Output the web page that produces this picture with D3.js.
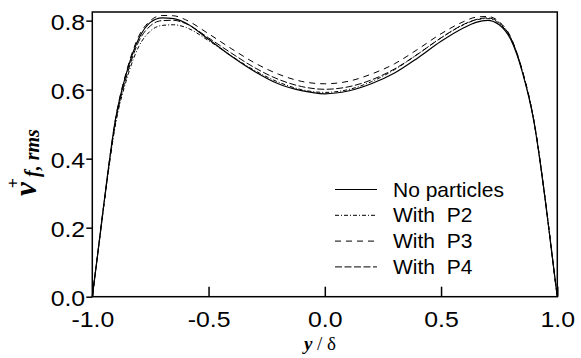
<!DOCTYPE html>
<html>
<head>
<meta charset="utf-8">
<script src="https://cdn.jsdelivr.net/npm/d3@7"></script>
<style>
  body { margin: 0; background: #fff; }
  svg { display: block; }
</style>
</head>
<body>
<svg id="chart"></svg>
<script>
// wall-normal positions y/delta
const yPos = [-1, -0.99, -0.975, -0.95, -0.9, -0.85, -0.8, -0.75, -0.7, -0.65, -0.6,
  -0.5, -0.4, -0.3, -0.2, -0.1, 0, 0.1, 0.2, 0.3, 0.4, 0.5,
  0.6, 0.65, 0.7, 0.75, 0.8, 0.85, 0.9, 0.95, 0.975, 0.99, 1];

const noParticles = [0, 0.053, 0.133, 0.27, 0.515, 0.655, 0.748, 0.795, 0.808, 0.806, 0.794,
  0.746, 0.696, 0.652, 0.617, 0.597, 0.588, 0.596, 0.617, 0.648, 0.692, 0.74,
  0.78, 0.795, 0.801, 0.788, 0.745, 0.65, 0.505, 0.27, 0.135, 0.053, 0];

const withP2 = [0, 0.053, 0.132, 0.265, 0.5, 0.635, 0.725, 0.77, 0.786, 0.788, 0.781,
  0.742, 0.697, 0.655, 0.622, 0.6, 0.592, 0.6, 0.623, 0.658, 0.703, 0.75,
  0.789, 0.802, 0.806, 0.792, 0.748, 0.652, 0.507, 0.272, 0.135, 0.053, 0];

const withP3 = [0, 0.053, 0.134, 0.27, 0.515, 0.66, 0.755, 0.8, 0.815, 0.814, 0.803,
  0.762, 0.718, 0.677, 0.645, 0.624, 0.617, 0.624, 0.645, 0.675, 0.717, 0.762,
  0.798, 0.81, 0.812, 0.797, 0.752, 0.655, 0.508, 0.272, 0.135, 0.053, 0];

const withP4 = [0, 0.053, 0.133, 0.268, 0.505, 0.645, 0.74, 0.785, 0.8, 0.801, 0.792,
  0.75, 0.705, 0.663, 0.63, 0.609, 0.601, 0.608, 0.628, 0.66, 0.703, 0.75,
  0.79, 0.803, 0.808, 0.794, 0.75, 0.653, 0.507, 0.272, 0.135, 0.053, 0];

const seriesNames = ["No particles", "With  P2", "With  P3", "With  P4"];
const seriesDash = [null, "4,2,1,2", "6,5", "7,2.5"];
const seriesValues = [noParticles, withP2, withP3, withP4];

const xTicks = [-1, -0.5, 0, 0.5, 1];
const yTicks = [0, 0.2, 0.4, 0.6, 0.8];

const width = 581;
const height = 358;
const margin = { top: 12, right: 23.7, bottom: 61.3, left: 92.3 };

const svg = d3.select("#chart").attr("width", width).attr("height", height);

const x = d3.scaleLinear().domain([-1, 1]).range([margin.left, width - margin.right]);
const y = d3.scaleLinear().domain([0, 0.825]).range([height - margin.bottom, margin.top]);

// curves
const line = d3
  .line()
  .x((d) => x(d[0]))
  .y((d) => y(d[1]))
  .curve(d3.curveMonotoneX);

seriesValues.forEach((vals, i) => {
  svg
    .append("path")
    .datum(yPos.map((p, j) => [p, vals[j]]))
    .attr("fill", "none")
    .attr("stroke", "#000")
    .attr("stroke-width", i === 0 ? 1.2 : 1)
    .attr("stroke-dasharray", seriesDash[i])
    .attr("d", line);
});

const fmt = (d) => d.toFixed(1);

// x axis, ticks pointing inward
const xAxis = svg
  .append("g")
  .attr("transform", `translate(0,${height - margin.bottom})`)
  .call(d3.axisBottom(x).tickValues(xTicks).tickSize(-10).tickPadding(15).tickFormat(fmt));

// y axis, ticks pointing outward
const yAxis = svg
  .append("g")
  .attr("transform", `translate(${margin.left},0)`)
  .call(d3.axisLeft(y).tickValues(yTicks).tickSize(6).tickPadding(1).tickFormat(fmt));

[xAxis, yAxis].forEach((g) => {
  g.select(".domain").remove();
  g.selectAll("line").attr("stroke", "#000").attr("stroke-width", 1.5);
  g.selectAll("text")
    .attr("fill", "#000")
    .style("font-family", "'Liberation Sans', Arial, sans-serif")
    .style("font-size", "22px");
});

xAxis.selectAll("text").attr("transform", "scale(1.13,1)");
yAxis.selectAll("text").attr("x", -6.3).attr("dy", "0.4em").attr("transform", "scale(1.13,1)");

// plot frame
svg
  .append("rect")
  .attr("x", margin.left)
  .attr("y", margin.top)
  .attr("width", width - margin.left - margin.right)
  .attr("height", height - margin.top - margin.bottom)
  .attr("fill", "none")
  .attr("stroke", "#000")
  .attr("stroke-width", 1.5);

// x label
const xLabel = svg
  .append("text")
  .attr("x", 320)
  .attr("y", 350)
  .attr("text-anchor", "middle")
  .style("font-family", "'Liberation Serif', 'Times New Roman', serif")
  .style("font-size", "19px");
xLabel.append("tspan").style("font-weight", "bold").style("font-style", "italic").text("y");
xLabel.append("tspan").text(" / δ");

// y label, rotated
const yLabel = svg.append("g").attr("transform", "translate(36,196) rotate(-90)");
yLabel
  .append("text")
  .attr("x", 0)
  .attr("y", 0)
  .style("font-family", "'Liberation Serif', 'Times New Roman', serif")
  .style("font-weight", "bold")
  .style("font-style", "italic")
  .style("font-size", "31px")
  .text("v");
yLabel
  .append("text")
  .attr("x", 8)
  .attr("y", -18)
  .style("font-family", "'Liberation Sans', Arial, sans-serif")
  .style("font-size", "17px")
  .text("+");
yLabel
  .append("text")
  .attr("x", 19)
  .attr("y", 3)
  .style("font-family", "'Liberation Serif', 'Times New Roman', serif")
  .style("font-weight", "bold")
  .style("font-style", "italic")
  .style("font-size", "20px")
  .text("f, rms");

// legend
const legend = svg.append("g").attr("transform", "translate(335,189.5)");
const legendItems = legend
  .selectAll(".legend-item")
  .data(seriesNames)
  .enter()
  .append("g")
  .attr("class", "legend-item")
  .attr("transform", (d, i) => `translate(0,${i * 25.8})`);

legendItems
  .append("line")
  .attr("x1", 0)
  .attr("x2", 42)
  .attr("stroke", "#000")
  .attr("stroke-width", (d, i) => (i === 0 ? 1.2 : 1))
  .attr("stroke-dasharray", (d, i) => seriesDash[i]);

legendItems
  .append("text")
  .attr("x", 58)
  .attr("y", 7)
  .style("font-family", "'Liberation Sans', Arial, sans-serif")
  .style("font-size", "21px")
  .style("white-space", "pre")
  .attr("xml:space", "preserve")
  .text((d) => d);
</script>
</body>
</html>
